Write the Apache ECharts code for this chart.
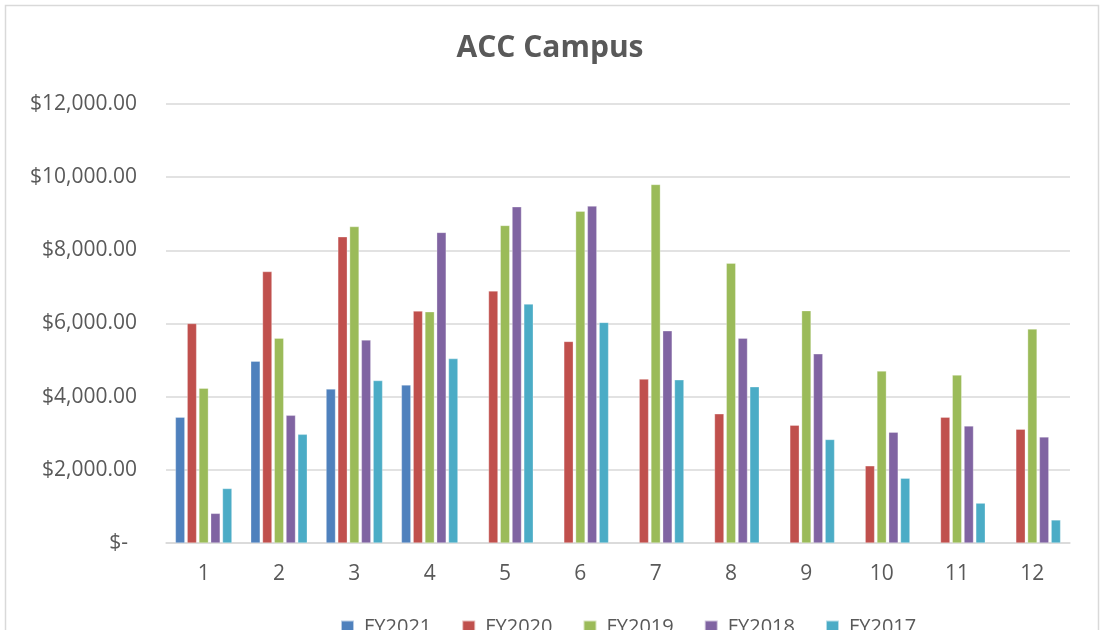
<!DOCTYPE html>
<html>
<head>
<meta charset="utf-8">
<script src="https://cdn.jsdelivr.net/npm/echarts@6/dist/echarts.min.js"></script>
<style>
html,body{margin:0;padding:0;background:#fff;}
#chart{width:1100px;height:640px;}
</style>
</head>
<body>
<div id="chart"></div>
<script>
var categories = ['1','2','3','4','5','6','7','8','9','10','11','12'];
var seriesNames = ['FY2021','FY2020','FY2019','FY2018','FY2017'];
var fy2021 = [3440, 4970, 4210, 4320, null, null, null, null, null, null, null, null];
var fy2020 = [6000, 7420, 8370, 6340, 6890, 5510, 4480, 3530, 3220, 2110, 3440, 3110];
var fy2019 = [4230, 5600, 8650, 6320, 8680, 9070, 9800, 7650, 6350, 4700, 4590, 5850];
var fy2018 = [810, 3490, 5550, 8490, 9190, 9210, 5800, 5600, 5170, 3030, 3200, 2900];
var fy2017 = [1490, 2970, 4440, 5040, 6530, 6030, 4460, 4270, 2830, 1770, 1090, 630];
var yTicks = [0, 2000, 4000, 6000, 8000, 10000, 12000];

var colors = ['#4F81BD', '#C0504D', '#9BBB59', '#8064A2', '#4BACC6'];
var dataSets = [fy2021, fy2020, fy2019, fy2018, fy2017];
var FONT = '"Open Sans", Lato, sans-serif';

function fmt(v) {
  if (v === 0) return '{z|$-}';
  return '$' + v.toLocaleString('en-US', {minimumFractionDigits: 2, maximumFractionDigits: 2});
}

var chart = echarts.init(document.getElementById('chart'), null, {renderer: 'canvas'});
chart.setOption({
  animation: false,
  backgroundColor: '#ffffff',
  color: colors,
  graphic: [{
    type: 'rect',
    shape: {x: 5.5, y: 5.5, width: 1093, height: 700},
    style: {fill: 'none', stroke: '#d9d9d9', lineWidth: 1.5},
    silent: true, z: -1
  }, {
    type: 'rect',
    shape: {x: 0, y: 630, width: 1100, height: 10},
    style: {fill: '#ffffff'},
    silent: true, z: 1000
  }],
  title: {
    text: 'ACC Campus',
    left: 'center',
    top: 28,
    textStyle: {fontFamily: FONT, fontSize: 30, fontWeight: 'bold', color: '#595959'}
  },
  legend: {
    data: seriesNames,
    left: 335,
    top: 612,
    itemWidth: 13,
    itemHeight: 13,
    itemGap: 30,
    icon: 'rect',
    textStyle: {fontFamily: FONT, fontSize: 20, color: '#595959', padding: [0, 0, 0, 5]}
  },
  grid: {left: 166, right: 30, top: 104, bottom: 97, containLabel: false},
  xAxis: {
    type: 'category',
    data: categories,
    axisLine: {show: true, lineStyle: {color: '#d9d9d9', width: 1.5}},
    axisTick: {show: false},
    axisLabel: {fontFamily: FONT, fontSize: 21, color: '#595959', margin: 21}
  },
  yAxis: {
    type: 'value',
    min: yTicks[0],
    max: yTicks[yTicks.length - 1],
    interval: yTicks[1] - yTicks[0],
    axisLine: {show: false},
    axisTick: {show: false},
    splitLine: {lineStyle: {color: '#d9d9d9', width: 1.5}},
    axisLabel: {
      fontFamily: FONT, fontSize: 21, color: '#595959', margin: 29,
      formatter: fmt,
      rich: {z: {fontFamily: FONT, fontSize: 21, color: '#595959', padding: [0, 9, 0, 0]}}
    }
  },
  series: seriesNames.map(function (name, i) {
    return {
      name: name,
      type: 'bar',
      data: dataSets[i],
      barGap: '25%',
      barCategoryGap: '25%',
      itemStyle: {color: colors[i], borderColor: 'rgba(255,255,255,0.6)', borderWidth: 0.5}
    };
  })
});
</script>
</body>
</html>
